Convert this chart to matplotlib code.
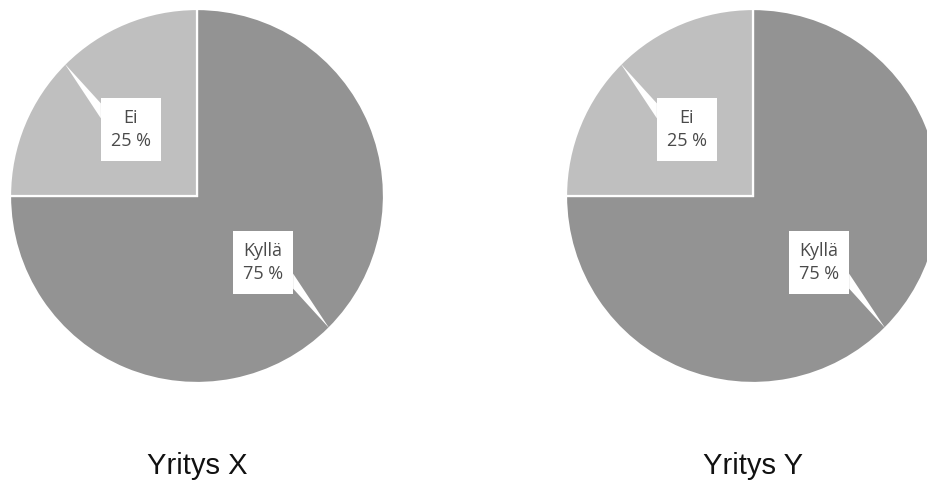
import matplotlib.pyplot as plt
import numpy as np
from matplotlib.patches import Polygon, Rectangle

# survey answers per company
companies = ["Yritys X", "Yritys Y"]
answers = ["Kyllä", "Ei"]
shares = [[75, 25], [75, 25]]
colors = ["#939393", "#bfbfbf"]

W, H = 928, 482
fig = plt.figure(figsize=(W / 100, H / 100), dpi=100)
ax = fig.add_axes([0, 0, 1, 1])

centers = [(197, 286), (753, 286)]
radius = 187
box_w, box_h = 60, 63

for (cx, cy), name, vals in zip(centers, companies, shares):
    wedges, _ = ax.pie(vals, colors=colors, startangle=90, counterclock=False,
                       center=(cx, cy), radius=radius, frame=True,
                       wedgeprops=dict(edgecolor="white", linewidth=1.6))
    total = sum(vals)
    for w, lab, v in zip(wedges, answers, vals):
        mid = np.deg2rad((w.theta1 + w.theta2) / 2)
        ux, uy = np.cos(mid), np.sin(mid)
        tip = (cx + radius * ux, cy + radius * uy)
        bx, by = cx + 0.5 * radius * ux, cy + 0.5 * radius * uy
        # thin callout pointer from the box side out to the slice edge
        sx, sy = np.sign(ux), np.sign(uy)
        edge_x = bx + sx * box_w / 2
        corner_y = by + sy * box_h / 2
        base = [(edge_x, corner_y - sy * 5), (edge_x, corner_y - sy * 20)]
        ax.add_patch(Polygon([tip] + base, closed=True, facecolor="white",
                             edgecolor="none", zorder=3))
        ax.add_patch(Rectangle((bx - box_w / 2, by - box_h / 2), box_w, box_h,
                               facecolor="white", edgecolor="none", zorder=4))
        ax.text(bx, by, f"{lab}\n{v / total * 100:.0f} %", ha="center",
                va="center", fontsize=13, color="#4a4a4a", linespacing=1.35,
                family="Open Sans", zorder=5)
    ax.text(cx, 16, name, ha="center", va="center", fontsize=21,
            color="#111111", family="Liberation Sans")

ax.set_xlim(0, W)
ax.set_ylim(0, H)
ax.set_aspect("equal")
ax.axis("off")

fig.savefig("out.png", dpi=100, facecolor="white")
